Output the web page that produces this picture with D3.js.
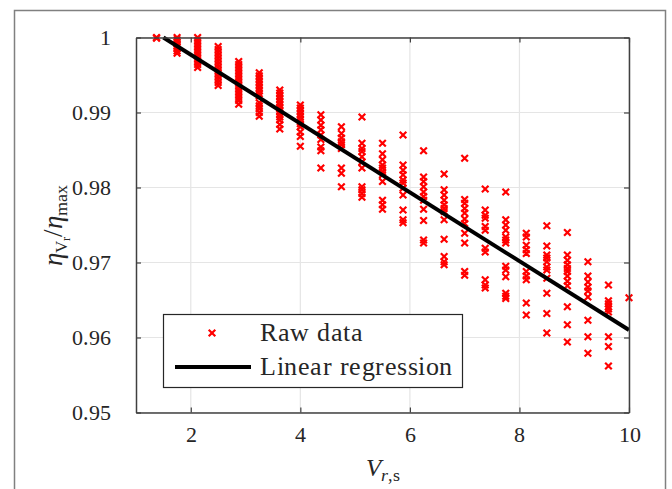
<!DOCTYPE html>
<html>
<head>
<meta charset="utf-8">
<script src="https://cdn.jsdelivr.net/npm/d3@7"></script>
<style>
  @font-face { font-family: "ChartSerif"; src: local("Liberation Serif"), local("LiberationSerif"); font-style: normal; }
  @font-face { font-family: "ChartSerif"; src: local("Liberation Serif Italic"), local("LiberationSerif-Italic"); font-style: italic; }
  body { margin: 0; background: #fff; }
  #chart svg, #chart svg text, #chart svg tspan { font-family: "ChartSerif", "Liberation Serif", serif !important; }
</style>
</head>
<body>
<div id="chart"></div>
<script>
// speed ratio columns (x) and the efficiency ratios measured at each one
var vrs = [1.375, 1.75, 2.125, 2.5, 2.875, 3.25, 3.625, 4.0, 4.375, 4.75, 5.125, 5.5,
           5.875, 6.25, 6.625, 7.0, 7.375, 7.75, 8.125, 8.5, 8.875, 9.25, 9.625, 10.0];

var etaRatio = [
  [1.0, 0.9999],
  [1.0, 0.9997, 0.9994, 0.9991, 0.9988, 0.9985, 0.9982, 0.9979],
  [1.0, 0.9996, 0.9992, 0.9988, 0.9984, 0.998, 0.9976, 0.9972, 0.9968, 0.9964, 0.996],
  [0.9988, 0.9984, 0.998, 0.9976, 0.9972, 0.9968, 0.9964, 0.996, 0.9956, 0.9952, 0.9948, 0.9944, 0.994, 0.9936],
  [0.9968, 0.9964, 0.996, 0.9956, 0.9952, 0.9948, 0.9944, 0.994, 0.9936, 0.9932, 0.9928, 0.9924, 0.992, 0.9916, 0.9911],
  [0.9953, 0.9949, 0.9945, 0.9941, 0.9937, 0.9933, 0.9929, 0.9925, 0.9922, 0.9913, 0.9909, 0.9905, 0.99, 0.9895],
  [0.993, 0.9926, 0.9922, 0.9918, 0.9914, 0.991, 0.9906, 0.9902, 0.9898, 0.9894, 0.989, 0.9884, 0.9878],
  [0.991, 0.9906, 0.9902, 0.9898, 0.9894, 0.989, 0.9885, 0.9881, 0.9874, 0.9868, 0.9855],
  [0.9897, 0.989, 0.9883, 0.9877, 0.987, 0.9864, 0.9854, 0.9849, 0.9826],
  [0.9881, 0.9872, 0.9866, 0.9861, 0.9857, 0.9852, 0.9826, 0.9819, 0.9801],
  [0.9894, 0.9859, 0.9852, 0.9848, 0.9841, 0.9834, 0.9826, 0.9801, 0.9797, 0.9792, 0.9787],
  [0.9859, 0.9845, 0.9837, 0.983, 0.9826, 0.9821, 0.9817, 0.9808, 0.9783, 0.9777, 0.9771],
  [0.987, 0.983, 0.9823, 0.9817, 0.981, 0.9806, 0.9799, 0.979, 0.977, 0.9757, 0.9753],
  [0.9849, 0.9814, 0.9808, 0.9801, 0.9794, 0.9788, 0.9783, 0.9771, 0.9756, 0.973, 0.9726],
  [0.9818, 0.9797, 0.979, 0.9783, 0.9777, 0.9772, 0.9768, 0.9757, 0.9731, 0.9708, 0.9701, 0.9697],
  [0.9839, 0.9784, 0.9779, 0.9772, 0.9766, 0.9758, 0.9752, 0.9739, 0.9726, 0.9688, 0.9683],
  [0.9798, 0.977, 0.9763, 0.9759, 0.9748, 0.9743, 0.9719, 0.9714, 0.9677, 0.967, 0.9666],
  [0.9794, 0.9757, 0.975, 0.9743, 0.9734, 0.973, 0.9726, 0.9695, 0.969, 0.9681, 0.9659, 0.9655, 0.9652],
  [0.9739, 0.9734, 0.9723, 0.9717, 0.9712, 0.9688, 0.9682, 0.9677, 0.9646, 0.963],
  [0.9749, 0.9722, 0.971, 0.9706, 0.9701, 0.9694, 0.969, 0.9679, 0.9659, 0.9632, 0.9606],
  [0.974, 0.971, 0.9703, 0.9697, 0.9692, 0.9688, 0.9682, 0.9675, 0.9669, 0.9641, 0.9617, 0.9594],
  [0.9701, 0.9682, 0.9674, 0.9667, 0.9662, 0.9654, 0.9623, 0.9601, 0.9579],
  [0.967, 0.9649, 0.9645, 0.9641, 0.9638, 0.9634, 0.9601, 0.9588, 0.9562],
  [0.9653]
];

// fitted line end points
var regX = [1.5, 10.0];
var regY = [1.0, 0.961];

var xTicks = [2, 4, 6, 8, 10];
var yTicks = [0.95, 0.96, 0.97, 0.98, 0.99, 1];

var W = 672, H = 489;
var margin = { top: 37.5, right: 43, bottom: 76.5, left: 136 },
    width = W - margin.left - margin.right,
    height = H - margin.top - margin.bottom;
var ink = "#262626";

var svg = d3.select("#chart").append("svg")
    .attr("width", W)
    .attr("height", H);

// figure frame (bottom is cut off in the picture)
svg.append("rect")
    .attr("x", 14.5).attr("y", 10.5)
    .attr("width", 651).attr("height", 500)
    .attr("fill", "none")
    .attr("stroke", "#808080")
    .attr("stroke-width", 1.5);

var g = svg.append("g").attr("transform", "translate(" + margin.left + "," + margin.top + ")");

var x = d3.scaleLinear().domain([1, 10]).range([0, width]);
var y = d3.scaleLinear().domain([0.95, 1]).range([height, 0]);

// grid
g.append("g").selectAll("line").data(xTicks).join("line")
    .attr("x1", d => x(d)).attr("x2", d => x(d))
    .attr("y1", 0).attr("y2", height)
    .attr("stroke", "#e5e5e5").attr("stroke-width", 1.2);
g.append("g").selectAll("line").data(yTicks).join("line")
    .attr("x1", 0).attr("x2", width)
    .attr("y1", d => y(d)).attr("y2", d => y(d))
    .attr("stroke", "#e5e5e5").attr("stroke-width", 1.2);

// raw data crosses
var pts = [];
vrs.forEach(function(v, i) {
    etaRatio[i].forEach(function(e) { pts.push([v, e]); });
});
var s = 3.3;
var cross = (px, py) => "M" + (px - s) + "," + (py - s) + "L" + (px + s) + "," + (py + s) +
                        "M" + (px - s) + "," + (py + s) + "L" + (px + s) + "," + (py - s);
g.append("g").selectAll("path").data(pts).join("path")
    .attr("d", d => cross(x(d[0]), y(d[1])))
    .attr("stroke", "#ff0000")
    .attr("stroke-width", 2.2)
    .attr("fill", "none");

// regression line
g.append("path")
    .datum(regX.map((v, i) => [v, regY[i]]))
    .attr("d", d3.line().x(d => x(d[0])).y(d => y(d[1])))
    .attr("stroke", "#000")
    .attr("stroke-width", 4)
    .attr("fill", "none");

// axes box with inward ticks on all sides
var axisColor = "#404040";
var xb = g.append("g").attr("transform", "translate(0," + height + ")")
    .call(d3.axisBottom(x).tickValues(xTicks).tickSizeInner(-5).tickSizeOuter(0).tickPadding(14).tickFormat(d3.format("d")));
var xt = g.append("g").call(d3.axisTop(x).tickValues(xTicks).tickSizeInner(-5).tickSizeOuter(0).tickFormat(""));
var yl = g.append("g")
    .call(d3.axisLeft(y).tickValues(yTicks).tickSizeInner(-5).tickSizeOuter(0).tickPadding(25).tickFormat(d => d === 1 ? "1" : d3.format(".2f")(d)));
var yr = g.append("g").attr("transform", "translate(" + width + ",0)")
    .call(d3.axisRight(y).tickValues(yTicks).tickSizeInner(-5).tickSizeOuter(0).tickFormat(""));
[xb, xt, yl, yr].forEach(function(a) {
    a.attr("font-family", null).attr("font-size", 22);
    a.select(".domain").attr("stroke", axisColor).attr("stroke-width", 1.5);
    a.selectAll(".tick line").attr("stroke", axisColor).attr("stroke-width", 1.2);
    a.selectAll("text").attr("fill", ink);
});

// axis titles
var xl = svg.append("text")
    .attr("x", margin.left + width / 2)
    .attr("y", 476)
    .attr("text-anchor", "middle")
    .attr("font-size", 25).attr("fill", ink);
xl.append("tspan").attr("font-style", "italic").text("V");
xl.append("tspan").attr("font-style", "italic").attr("font-size", 18).attr("dy", 5).text("r");
xl.append("tspan").attr("font-size", 18).text(",s");

var ylab = svg.append("text")
    .attr("transform", "translate(62," + (margin.top + height / 2) + ") rotate(-90)")
    .attr("text-anchor", "middle")
    .attr("font-size", 27).attr("fill", ink);
ylab.append("tspan").attr("font-style", "italic").text("η");
ylab.append("tspan").attr("font-size", 17).attr("dy", 5).text("V");
ylab.append("tspan").attr("font-size", 12).attr("dy", 3).text("r");
ylab.append("tspan").attr("dy", -8).text("/");
ylab.append("tspan").attr("font-style", "italic").text("η");
ylab.append("tspan").attr("font-size", 18).attr("dy", 5).text("max");

// legend
var lg = svg.append("g");
lg.append("rect")
    .attr("x", 163.5).attr("y", 314.5)
    .attr("width", 299).attr("height", 73)
    .attr("fill", "#fff")
    .attr("stroke", ink)
    .attr("stroke-width", 1.2);
lg.append("path")
    .attr("d", cross(212, 333))
    .attr("stroke", "#ff0000").attr("stroke-width", 2.2);
lg.append("line")
    .attr("x1", 175).attr("x2", 251).attr("y1", 367).attr("y2", 367)
    .attr("stroke", "#000").attr("stroke-width", 4);
lg.selectAll("text.lbl").data(["Raw data", "Linear regression"]).join("text")
    .attr("class", "lbl")
    .attr("x", 260).attr("y", (d, i) => 341 + i * 34)
    .attr("font-size", 26).attr("letter-spacing", 0.5).attr("fill", ink)
    .text(d => d);
</script>
</body>
</html>
